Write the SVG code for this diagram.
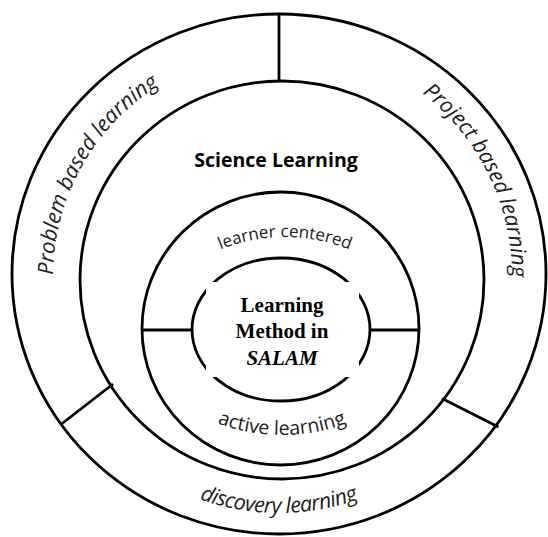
<svg xmlns="http://www.w3.org/2000/svg" width="548" height="537" viewBox="0 0 548 537">
<style>
.ring{fill:none;stroke:#000;stroke-width:2.8}
.sep{stroke:#000;stroke-width:2.8;fill:none}
.it{font-family:"Open Sans",Lato,sans-serif;font-style:italic;font-size:21.5px;fill:#222}
.up{font-family:"Open Sans",Lato,sans-serif;font-size:17px;fill:#222}
.up2{font-family:"Open Sans",Lato,sans-serif;font-size:19.5px;fill:#222}
.hd{font-family:"Open Sans",Lato,sans-serif;font-weight:bold;font-size:19.5px;fill:#000}
.ctr{font-family:"Liberation Serif","Times New Roman",serif;font-weight:bold;font-size:21px;fill:#000;text-anchor:middle}
</style>
<defs>
<path id="pProblem" d="M53,277 A226,226 0 0 1 279,51"/>
<path id="pProject" d="M279,44 A233,233 0 0 1 512,277"/>
<path id="pDiscovery" d="M112.1,443.9 A236,236 0 0 0 445.9,443.9"/>
<path id="pLearner" d="M163.4,287.4 A172,172 0 0 1 406.6,287.4"/>
<path id="pActive" d="M153.3,381.7 A182,182 0 0 0 410.7,381.7"/>
</defs>
<rect width="548" height="537" fill="#fff"/>
<g id="outer-ring">
<ellipse class="ring" cx="279" cy="274" rx="267" ry="260"/>
<text class="it"><textPath href="#pProblem" startOffset="2">Problem based learning</textPath></text>
<text class="it"><textPath href="#pProject" startOffset="154">Project based learning</textPath></text>
<text class="it" text-anchor="middle"><textPath href="#pDiscovery" startOffset="50%" textLength="162" lengthAdjust="spacing">discovery learning</textPath></text>
</g>
<g id="science-learning">
<ellipse class="ring" cx="282" cy="280" rx="202" ry="199"/>
<text class="hd" x="276" y="166.5" text-anchor="middle">Science Learning</text>
</g>
<g id="learner-ring">
<ellipse class="ring" cx="280.5" cy="328.5" rx="138.5" ry="136.5"/>
<text class="up" text-anchor="middle"><textPath href="#pLearner" startOffset="50%">learner centered</textPath></text>
<text class="up2" text-anchor="middle"><textPath href="#pActive" startOffset="50%">active learning</textPath></text>
</g>
<g id="connectors">
<line class="sep" x1="279" y1="14" x2="279" y2="81"/>
<line class="sep" x1="61.5" y1="424" x2="113" y2="384"/>
<line class="sep" x1="442" y1="398.5" x2="498.5" y2="427"/>
<line class="sep" x1="142" y1="330" x2="192" y2="330"/>
<line class="sep" x1="370" y1="330" x2="419" y2="330"/>
</g>
<g id="learning-method">
<ellipse class="ring" cx="281" cy="329.5" rx="89" ry="71.5"/>
<rect x="206" y="282" width="153" height="95" fill="#fff"/>
<text class="ctr" x="282" y="311.5">Learning</text>
<text class="ctr" x="282" y="338.3">Method in</text>
<text class="ctr" x="282" y="365" font-style="italic">SALAM</text>
</g>
</svg>
